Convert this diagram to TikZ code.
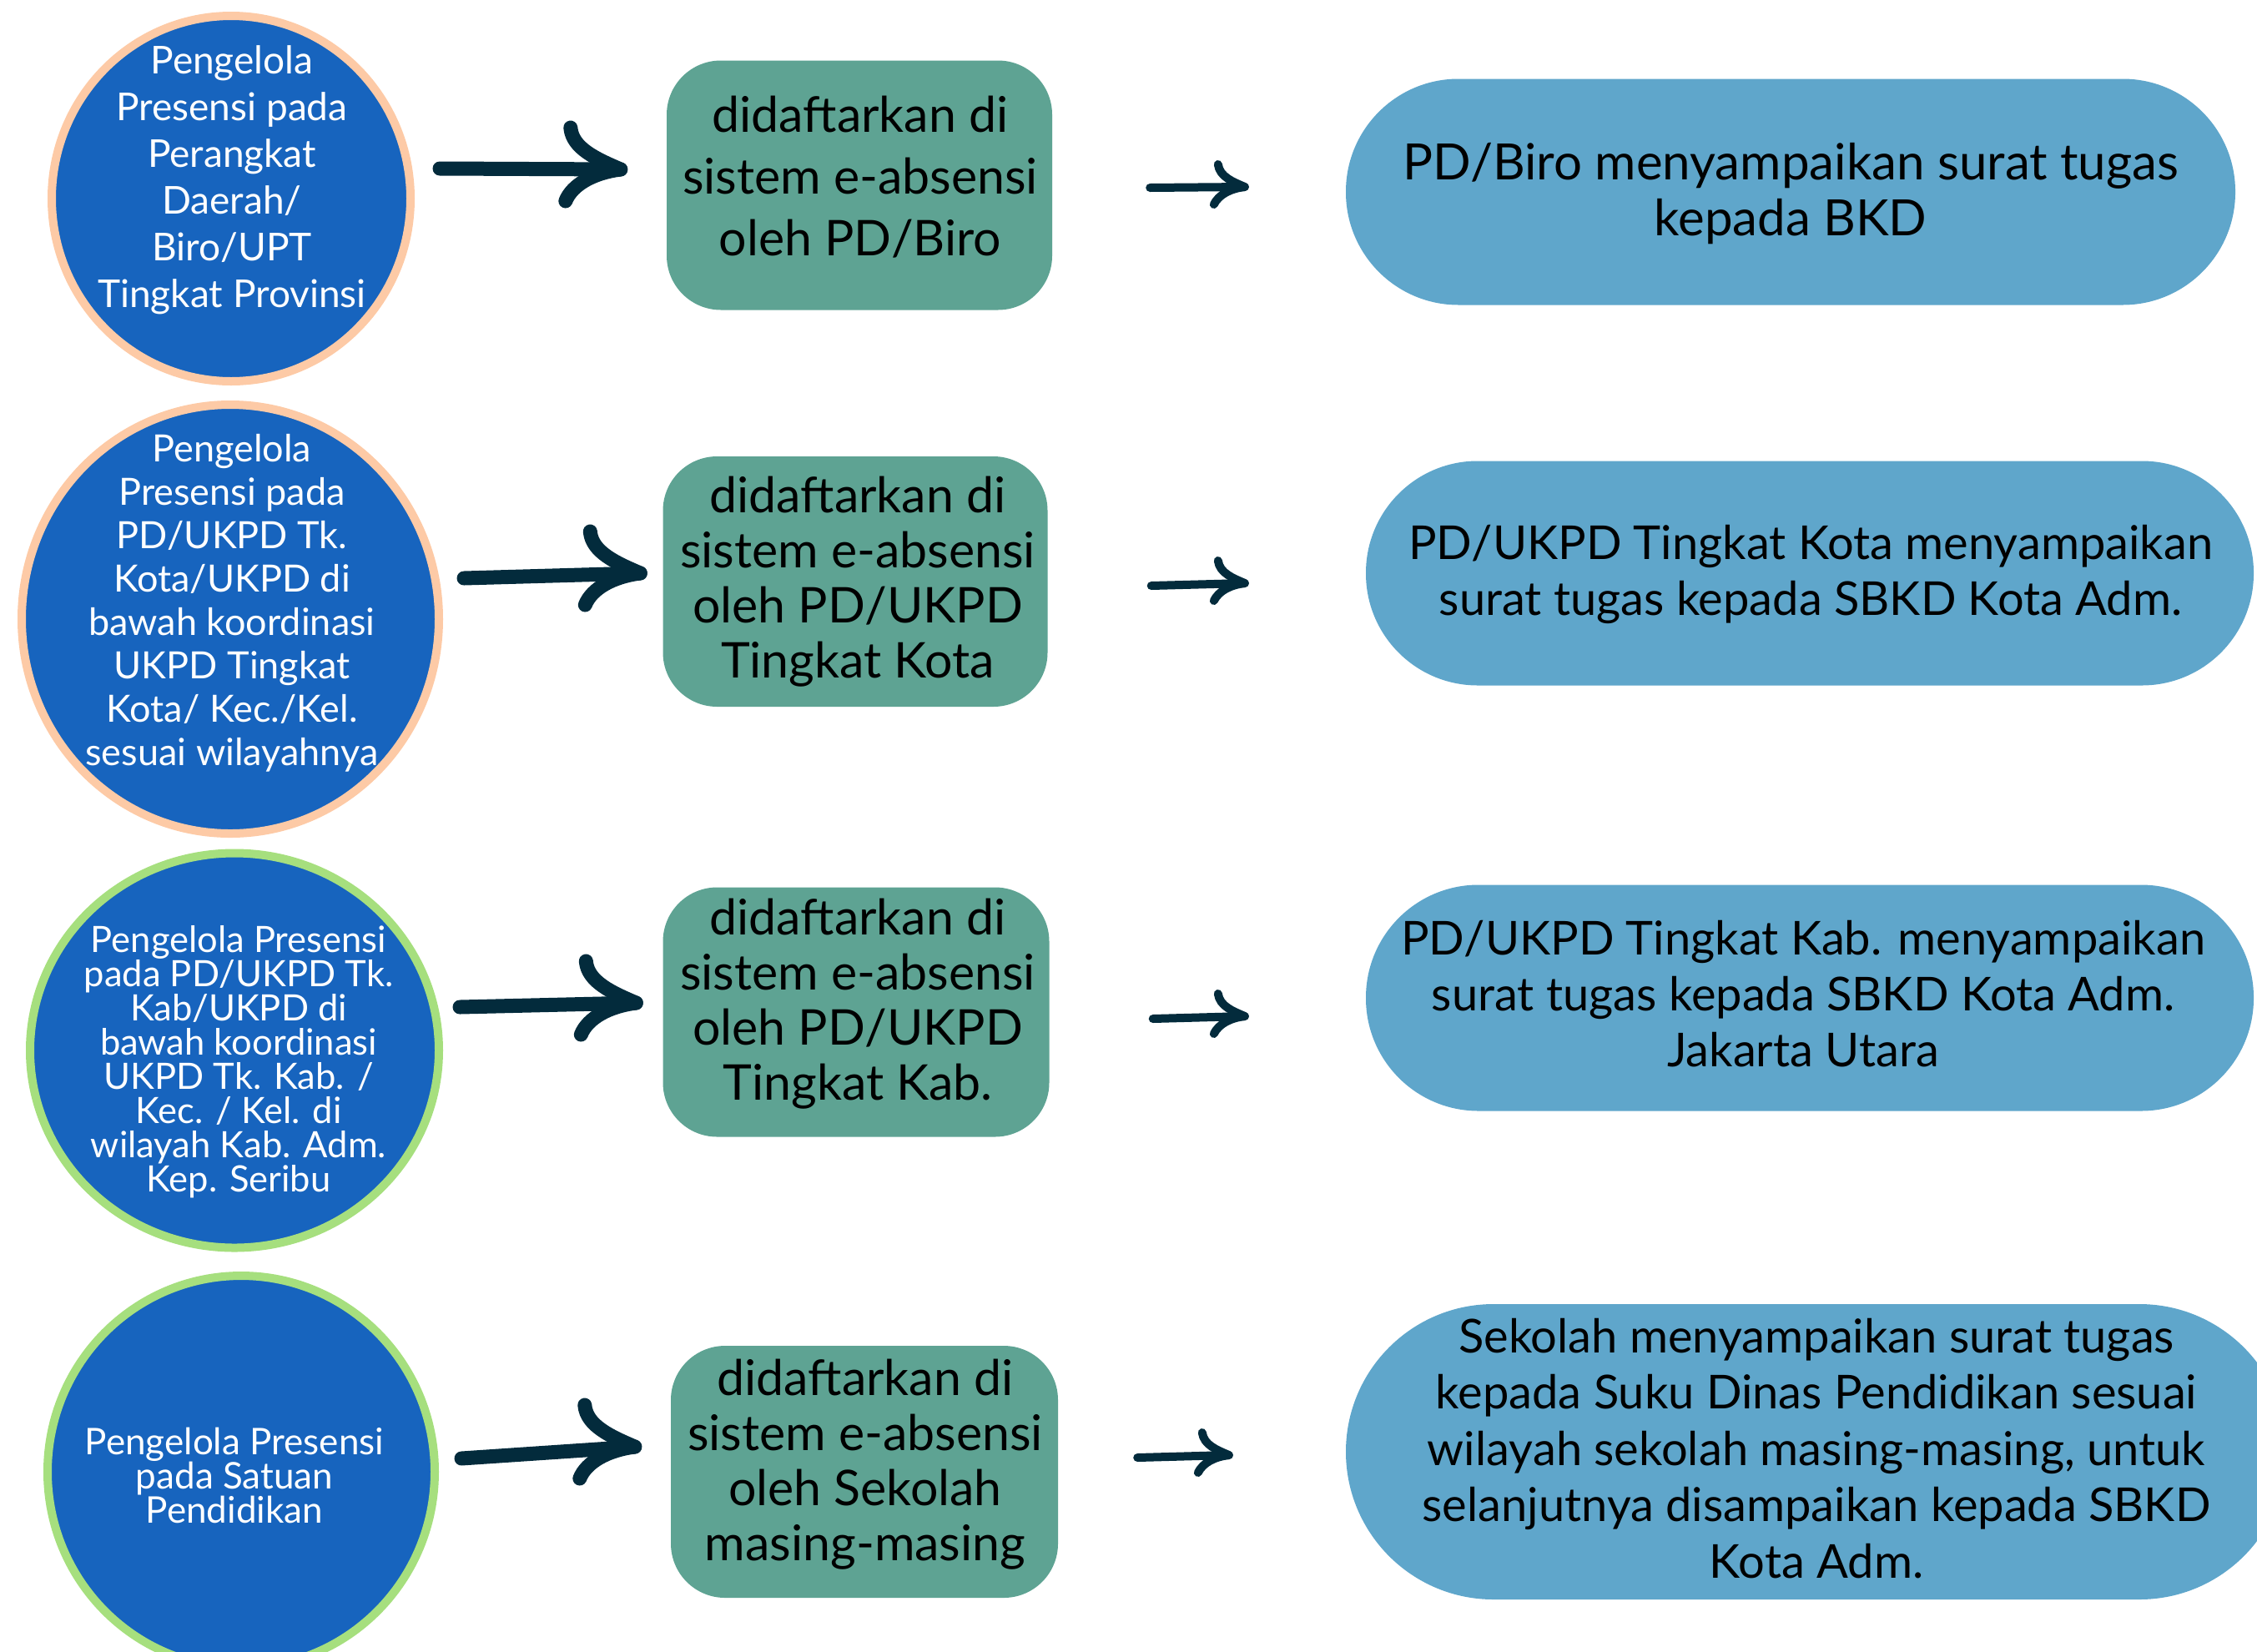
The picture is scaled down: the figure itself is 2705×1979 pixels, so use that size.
\documentclass[tikz,border=0pt]{standalone}
\usepackage{fontspec}
\setmainfont{Lato}
\usetikzlibrary{shapes.geometric,calc}
\definecolor{cblue}{HTML}{1764BE}
\definecolor{cpeach}{HTML}{FDCAA6}
\definecolor{clime}{HTML}{A6DF7E}
\definecolor{cgreen}{HTML}{5EA393}
\definecolor{cpill}{HTML}{5FA6CB}
\definecolor{carrow}{HTML}{032B3C}
\tikzset{
  circ/.style={ellipse, fill=cblue, line width=10pt, inner sep=0pt},
  ctext/.style={text=white, align=center, inner sep=0pt},
  gbox/.style={rectangle, fill=cgreen, rounded corners=65pt, inner sep=0pt},
  btext/.style={text=black, align=center, inner sep=0pt},
  pill/.style={rectangle, fill=cpill, inner sep=0pt},
  ptext/.style={text=black, align=center, inner sep=0pt},
  bigline/.style={draw=carrow, line width=17pt, line cap=round, line join=round},
  smallline/.style={draw=carrow, line width=10pt, line cap=round, line join=round},
  bighead/.pic={\draw[bigline] (-60,-50) .. controls (-58,-25) and (-28,-12) .. (0,0) .. controls (-32,4) and (-58,18) .. (-66,38);},
  smallhead/.pic={\draw[smallline] (-32,-27) .. controls (-30,-12) and (-14,-6) .. (0,0) .. controls (-17,2) and (-31,9) .. (-37,21);}
}
\begin{document}
\begin{tikzpicture}[x=1pt,y=-1pt]
\useasboundingbox (0,0) rectangle (2705,1979);
\clip (0,0) rectangle (2705,1979);

% circles
\node[circ, draw=cpeach, minimum width=430pt, minimum height=438pt] (c1) at (277,238) {};
\node[circ, draw=cpeach, minimum width=500pt, minimum height=514pt] (c2) at (276,742) {};
\node[circ, draw=clime, minimum width=490pt, minimum height=473pt] (c3) at (281,1259) {};
\node[circ, draw=clime, minimum width=464pt, minimum height=470pt] (c4) at (289,1764) {};

\node[ctext, font=\fontsize{46}{56}\selectfont] (t1) at (278,216) {Pengelola\\Presensi pada\\Perangkat\\Daerah/\\Biro/UPT\\Tingkat Provinsi};
\node[ctext, font=\fontsize{45}{52}\selectfont] (t2) at (278,723) {Pengelola\\Presensi pada\\PD/UKPD Tk.\\Kota/UKPD di\\bawah koordinasi\\UKPD Tingkat\\Kota/ Kec./Kel.\\sesuai wilayahnya};
\node[ctext, font=\fontsize{43.5}{41}\selectfont] (t3) at (286,1273) {Pengelola Presensi\\pada PD/UKPD Tk.\\Kab/UKPD di\\bawah koordinasi\\UKPD Tk. Kab. /\\Kec. / Kel. di\\wilayah Kab. Adm.\\Kep. Seribu};
\node[ctext, font=\fontsize{44}{41}\selectfont] (t4) at (281,1768) {Pengelola Presensi\\pada Satuan\\Pendidikan};

% green boxes
\node[gbox, minimum width=462pt, minimum height=299pt] (b1) at (1030,222) {};
\node[gbox, minimum width=461pt, minimum height=300pt] (b2) at (1025,697) {};
\node[gbox, minimum width=463pt, minimum height=299pt] (b3) at (1026,1213) {};
\node[gbox, minimum width=464pt, minimum height=302pt] (b4) at (1036,1764) {};

\node[btext, font=\fontsize{59}{74}\selectfont] (u1) at (1031,212) {didaftarkan di\\sistem e-absensi\\oleh PD/Biro};
\node[btext, font=\fontsize{59}{66}\selectfont] (u2) at (1028,697) {didaftarkan di\\sistem e-absensi\\oleh PD/UKPD\\Tingkat Kota};
\node[btext, font=\fontsize{59}{66}\selectfont] (u3) at (1028,1203) {didaftarkan di\\sistem e-absensi\\oleh PD/UKPD\\Tingkat Kab.};
\node[btext, font=\fontsize{59}{66}\selectfont] (u4) at (1037,1755) {didaftarkan di\\sistem e-absensi\\oleh Sekolah\\masing-masing};

% pills
\node[pill, rounded corners=135pt, minimum width=1066pt, minimum height=271pt] (p1) at (2146,230) {};
\node[pill, rounded corners=134pt, minimum width=1064pt, minimum height=269pt] (p2) at (2169,687) {};
\node[pill, rounded corners=135pt, minimum width=1064pt, minimum height=271pt] (p3) at (2169,1196) {};
\node[pill, rounded corners=177pt, minimum width=1128pt, minimum height=354pt] (p4) at (2177,1740) {};

\node[ptext, font=\fontsize{60}{67}\selectfont] (q1) at (2146,232) {PD/Biro menyampaikan surat tugas\\kepada BKD};
\node[ptext, font=\fontsize{56}{67}\selectfont] (q2) at (2170,688) {PD/UKPD Tingkat Kota menyampaikan\\surat tugas kepada SBKD Kota Adm.};
\node[ptext, font=\fontsize{56}{67}\selectfont] (q3) at (2161,1191) {PD/UKPD Tingkat Kab. menyampaikan\\surat tugas kepada SBKD Kota Adm.\\Jakarta Utara};
\node[ptext, font=\fontsize{56}{67.5}\selectfont] (q4) at (2177,1736) {Sekolah menyampaikan surat tugas\\kepada Suku Dinas Pendidikan sesuai\\wilayah sekolah masing-masing, untuk\\selanjutnya disampaikan kepada SBKD\\Kota Adm.};

% big arrows
\coordinate (h1) at ($(b1.west)+(-55,-19)$);
\coordinate (h2) at ($(b2.west)+(-27,-10)$);
\coordinate (h3) at ($(b3.west)+(-32,-11)$);
\coordinate (h4) at ($(b4.west)+(-43,-30)$);
\draw[bigline] ($(c1.east)+(30,-36)$) -- (h1);
\draw[bigline] ($(c2.east)+(25,-49)$) -- (h2);
\draw[bigline] ($(c3.east)+(20,-52)$) -- (h3);
\draw[bigline] ($(c4.east)+(27,-16)$) -- (h4);
\pic at (h1) {bighead};
\pic at (h2) {bighead};
\pic at (h3) {bighead};
\pic at (h4) {bighead};

% small arrows
\coordinate (s1) at ($(p1.west)+(-121,-6)$);
\coordinate (s2) at ($(p2.west)+(-145,12)$);
\coordinate (s3) at ($(p3.west)+(-145,22)$);
\coordinate (s4) at ($(p4.west)+(-140,4)$);
\draw[smallline] ($(b1.east)+(117,3)$) -- (s1);
\draw[smallline] ($(b2.east)+(124,5)$) -- (s2);
\draw[smallline] ($(b3.east)+(124,8)$) -- (s3);
\draw[smallline] ($(b4.east)+(95,-17)$) -- (s4);
\pic at (s1) {smallhead};
\pic at (s2) {smallhead};
\pic at (s3) {smallhead};
\pic at (s4) {smallhead};
\end{tikzpicture}
\end{document}
